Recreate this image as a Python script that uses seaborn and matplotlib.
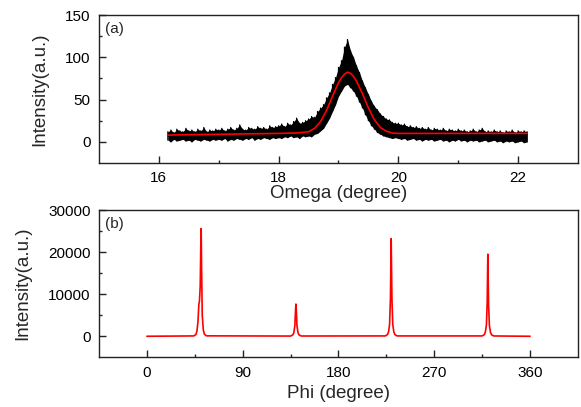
import numpy as np
import pandas as pd
import matplotlib
matplotlib.use("Agg")
import matplotlib.pyplot as plt
import seaborn as sns

# ---------------- data: (a) omega rocking curve ----------------
omega_start, omega_step = 16.15, 0.05
omega_upper = [12, 14, 11, 15, 13, 12, 16, 13, 14, 12, 15, 13, 17, 12, 14, 13, 15,
               14, 16, 13, 15, 17, 14, 16, 20, 15, 14, 17, 16, 15, 18, 16, 17, 15, 19, 17, 18,
               19, 21, 18, 22, 20, 24, 28, 22, 23, 25,
               27, 30, 29, 36, 40, 44, 52, 58, 68, 76, 88, 96, 112,
               121, 108, 100, 90, 82, 72, 64, 56, 48, 42, 38, 33, 30, 27, 26, 23, 22,
               22, 20, 21, 18, 19, 17, 18, 16, 17, 15, 17, 14, 16, 15, 14, 16, 13, 15, 14, 13,
               15, 13, 14, 12, 13, 15, 12, 14, 16, 12, 13, 12, 14, 12, 13, 11, 13, 12, 14, 11,
               13, 12, 13, 12]
omega_lower = [2, 0, 3, 1, 2, 3, 1, 2, 0, 3, 2, 1, 3, 2, 1, 3, 2,
               3, 2, 4, 1, 3, 2, 4, 3, 2, 4, 3, 5, 2, 4, 3, 5, 4, 3, 5, 4,
               5, 4, 6, 5, 7, 5, 6, 4, 7, 6,
               7, 6, 9, 10, 13, 16, 22, 28, 36, 44, 54, 60, 66,
               68, 64, 60, 54, 47, 40, 32, 25, 19, 15, 11, 9, 7, 6, 5, 4, 5,
               4, 3, 4, 2, 3, 4, 2, 3, 1, 3, 2, 3, 1, 2, 3, 1, 2, 0, 2, 1,
               3, 1, 2, 0, 2, 1, 2, 0, 1, 2, 0, 1, 2, 0, 1, -1, 1, 0, 1, -1,
               0, 1, -1, 0]
omega_x = [round(omega_start + omega_step * i, 2) for i in range(len(omega_upper))]

fit_x = [16.15, 16.5, 17.0, 17.5, 18.0, 18.3, 18.5, 18.6, 18.7, 18.8, 18.9, 19.0, 19.05,
         19.1, 19.15, 19.2, 19.25, 19.3, 19.4, 19.5, 19.6, 19.7, 19.8, 19.9, 20.0, 20.5,
         21.0, 21.5, 22.15]
fit_y = [8, 8.5, 9, 9.5, 10, 10.5, 12, 16, 24, 37, 54, 70, 76,
         80, 82.5, 81, 77.5, 72, 57, 40, 26, 17, 12.5, 10.5, 10, 10,
         10, 10, 10]

# ---------------- data: (b) phi scan ----------------
phi = [0, 44, 46, 47, 48, 48.8, 49.4, 50.1, 50.6, 51.0, 51.4, 52.0, 53, 54, 56,
       135, 137, 138, 139, 139.6, 140, 140.5, 141, 142, 143, 145,
       224, 226, 227, 228, 228.8, 229.5, 230.2, 231, 232, 233, 235,
       315, 317, 318, 319, 319.7, 320.3, 321, 321.8, 322.8, 324, 326, 360]
phi_int = [0, 80, 400, 1200, 3500, 7600, 8400, 12000, 21000, 25600, 16000, 5000, 1500, 500, 100,
           50, 300, 800, 2500, 6000, 7650, 5500, 2500, 800, 300, 60,
           80, 400, 1000, 2800, 9000, 23200, 9000, 2800, 1000, 400, 80,
           80, 400, 1000, 2800, 8000, 19500, 7500, 2500, 900, 300, 70, 0]

omega_ticks = [16, 18, 20, 22]
omega_yticks = [0, 50, 100, 150]
phi_ticks = [0, 90, 180, 270, 360]
phi_yticks = [0, 10000, 20000, 30000]

# ---------------- style ----------------
sns.set_style("ticks")
plt.rcParams["font.family"] = ["Liberation Sans", "DejaVu Sans"]

fig = plt.figure(figsize=(5.81, 4.07), dpi=100)
ax1 = fig.add_axes([0.1704, 0.5995, 0.8244, 0.3636])
ax2 = fig.add_axes([0.1704, 0.1221, 0.8244, 0.3619])

# (a) noisy data drawn as a zigzag between the read lower / upper values
zig_x, zig_y = [], []
for xv, lo, hi in zip(omega_x, omega_lower, omega_upper):
    zig_x += [xv, xv]
    zig_y += [lo, hi]
ax1.fill_between(omega_x, omega_lower, omega_upper, color="black", linewidth=0)
df_z = pd.DataFrame({"x": zig_x, "y": zig_y})
sns.lineplot(data=df_z, x="x", y="y", ax=ax1, color="black", linewidth=0.9,
             sort=False, estimator=None)
df_fit = pd.DataFrame({"x": fit_x, "y": fit_y})
sns.lineplot(data=df_fit, x="x", y="y", ax=ax1, color="red", linewidth=1.2)
ax1.set_xlim(15, 23)
ax1.set_ylim(-25, 150)
ax1.set_xticks(omega_ticks)
ax1.set_xticks([17, 19, 21], minor=True)
ax1.set_yticks(omega_yticks)
ax1.set_yticks([25, 75, 125], minor=True)
ax1.set_xlabel("Omega (degree)", fontsize=13.5, labelpad=0)
ax1.set_ylabel("Intensity(a.u.)", fontsize=13.5, labelpad=12)
ax1.text(0.012, 0.95, "(a)", transform=ax1.transAxes, fontsize=11, va="top", ha="left")

# (b)
df_phi = pd.DataFrame({"x": phi, "y": phi_int})
sns.lineplot(data=df_phi, x="x", y="y", ax=ax2, color="red", linewidth=1.2)
ax2.set_xlim(-45, 405)
ax2.set_ylim(-5000, 30000)
ax2.set_xticks(phi_ticks)
ax2.set_xticks([45, 135, 225, 315], minor=True)
ax2.set_yticks(phi_yticks)
ax2.set_yticks([5000, 15000, 25000], minor=True)
ax2.set_xlabel("Phi (degree)", fontsize=13.5, labelpad=4)
ax2.set_ylabel("Intensity(a.u.)", fontsize=13.5, labelpad=12)
ax2.text(0.012, 0.95, "(b)", transform=ax2.transAxes, fontsize=11, va="top", ha="left")

for ax in (ax1, ax2):
    for s in ax.spines.values():
        s.set_visible(True)
        s.set_linewidth(1.0)
        s.set_color("#222222")
    ax.tick_params(which="major", direction="in", length=5, width=1, labelsize=11,
                   top=False, right=False, colors="#222222", labelcolor="black", pad=6)
    ax.tick_params(which="minor", direction="in", length=2.5, width=1,
                   top=False, right=False, colors="#222222")

fig.savefig("out.png", dpi=100)
